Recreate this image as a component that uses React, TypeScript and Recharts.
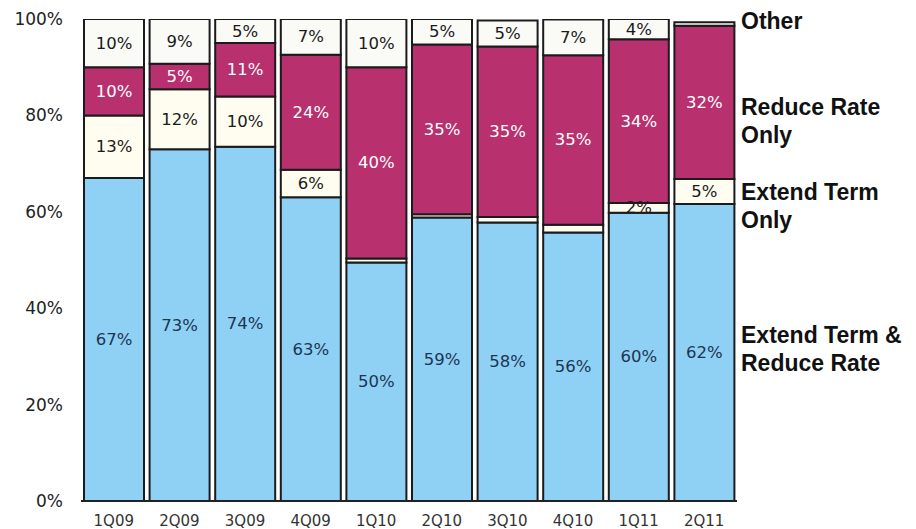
import React from 'react';
import { BarChart, Bar, XAxis, YAxis, LabelList } from 'recharts';

const categories = ['1Q09', '2Q09', '3Q09', '4Q09', '1Q10', '2Q10', '3Q10', '4Q10', '1Q11', '2Q11'];
const extendTermReduceRate = [67, 73, 73.5, 63, 49.5, 58.8, 57.8, 55.7, 59.8, 61.6];
const extendTermOnly = [13, 12.4, 10.4, 5.7, 0.8, 0.7, 1.1, 1.6, 2, 5.2];
const reduceRateOnly = [10, 5.3, 11.1, 23.9, 39.7, 35.2, 35.4, 35.2, 34, 31.8];
const otherShare = [10, 9.3, 5, 7.4, 10, 5.3, 5.4, 7.4, 4.2, 0.7];
const yTicks = [0, 20, 40, 60, 80, 100];

const seriesLabels = [
  { lines: ['Other'], y: 21 },
  { lines: ['Reduce Rate', 'Only'], y: 107 },
  { lines: ['Extend Term', 'Only'], y: 192 },
  { lines: ['Extend Term &', 'Reduce Rate'], y: 335 },
];

const data = categories.map((c, i) => ({
  cat: c,
  er: extendTermReduceRate[i],
  eo: extendTermOnly[i],
  ro: reduceRateOnly[i],
  ot: otherShare[i],
}));

const makeLabel = (color: string) => (props: any) => {
  const { x, y, width, height } = props;
  let value = props.value;
  if (Array.isArray(value)) value = value[1] - value[0];
  const v = Number(value);
  if (!(v >= 1.8)) return null;
  return (
    <text
      x={Number(x) + Number(width) / 2}
      y={Number(y) + Number(height) / 2}
      fill={color}
      fontSize={16.5}
      fontFamily="DejaVu Sans"
      textAnchor="middle"
      dominantBaseline="central"
    >
      {`${Math.round(v)}%`}
    </text>
  );
};

const tickStyle = { fontSize: 17, fill: '#222', fontFamily: 'DejaVu Sans' };

export default function App() {
  return (
    <div style={{ position: 'relative', width: 900, height: 521 }}>
      <BarChart
        width={900}
        height={521}
        data={data}
        margin={{ top: 11, right: 171, bottom: 0, left: 0 }}
        barCategoryGap={3}
      >
        <XAxis
          dataKey="cat"
          height={28}
          interval={0}
          tickLine={false}
          tickSize={0}
          tickMargin={14}
          axisLine={{ stroke: '#222', strokeWidth: 2 }}
          tick={{ fontSize: 15, fill: '#333', fontFamily: 'DejaVu Sans' }}
        />
        <YAxis
          width={73}
          domain={[0, 100]}
          ticks={yTicks}
          allowDataOverflow
          axisLine={false}
          tickLine={false}
          tickSize={0}
          tickMargin={18}
          tickFormatter={(v: number) => `${v}%`}
          tick={tickStyle}
        />
        <Bar dataKey="er" stackId="a" fill="#8fd1f5" stroke="#1b1b1b" strokeWidth={2} isAnimationActive={false}>
          <LabelList dataKey="er" content={makeLabel('#1d3552')} />
        </Bar>
        <Bar dataKey="eo" stackId="a" fill="#fffdf0" stroke="#1b1b1b" strokeWidth={2} isAnimationActive={false}>
          <LabelList dataKey="eo" content={makeLabel('#1a1a1a')} />
        </Bar>
        <Bar dataKey="ro" stackId="a" fill="#b8306e" stroke="#1b1b1b" strokeWidth={2} isAnimationActive={false}>
          <LabelList dataKey="ro" content={makeLabel('#ffffff')} />
        </Bar>
        <Bar dataKey="ot" stackId="a" fill="#fafaf7" stroke="#1b1b1b" strokeWidth={2} isAnimationActive={false}>
          <LabelList dataKey="ot" content={makeLabel('#1a1a1a')} />
        </Bar>
      </BarChart>
      <svg
        width={900}
        height={521}
        style={{ position: 'absolute', left: 0, top: 0, pointerEvents: 'none' }}
      >
        {seriesLabels.map((s) =>
          s.lines.map((line, j) => (
            <text
              key={s.y + '-' + j}
              x={733}
              y={s.y + j * 28}
              fontSize={23}
              fontWeight="bold"
              fontFamily="Liberation Sans"
              fill="#111"
            >
              {line}
            </text>
          ))
        )}
      </svg>
    </div>
  );
}
